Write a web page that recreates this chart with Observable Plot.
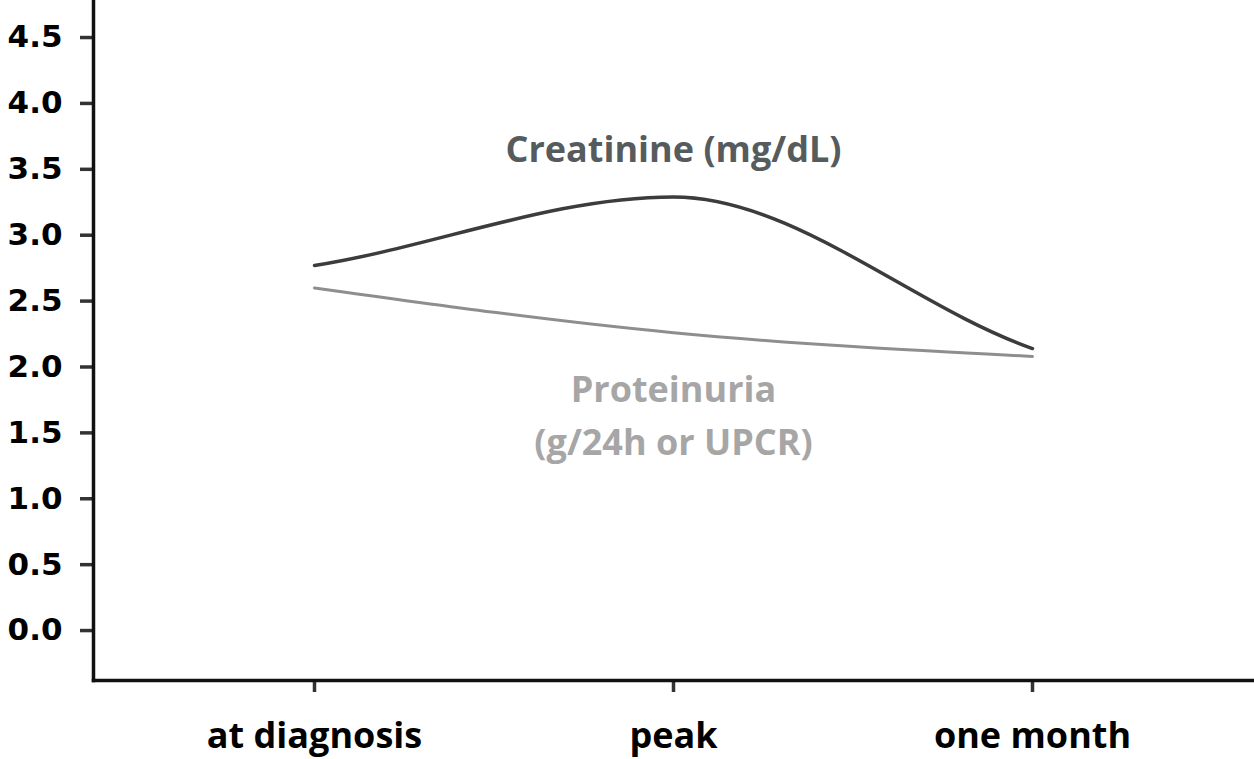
<!DOCTYPE html>
<html><head><meta charset="utf-8">
<script src="https://cdn.jsdelivr.net/npm/d3@7"></script>
<script src="https://cdn.jsdelivr.net/npm/@observablehq/plot@0.6"></script>
<style>body{margin:0;background:#fff;overflow:hidden}</style>
</head><body><div id="chart"></div>
<script>
const categories = ["at diagnosis", "peak", "one month"];
const creatinine = [2.77, 3.29, 2.14];
const proteinuria = [2.60, 2.26, 2.08];
const yTicks = [0, 0.5, 1.0, 1.5, 2.0, 2.5, 3.0, 3.5, 4.0, 4.5];
const creatLabel = "Creatinine (mg/dL)";
const protLabel = "Proteinuria\n(g/24h or UPCR)";

const creatData = categories.map((c, i) => ({cat: c, value: creatinine[i]}));
const protData = categories.map((c, i) => ({cat: c, value: proteinuria[i]}));

// smooth Hermite curve: monotone interior tangents, softened end tangents
function softMonotone(context) {
  let xs = [], ys = [];
  return {
    areaStart() {}, areaEnd() {},
    lineStart() { xs = []; ys = []; },
    point(x, y) { xs.push(+x); ys.push(+y); },
    lineEnd() {
      const n = xs.length;
      if (!n) return;
      context.moveTo(xs[0], ys[0]);
      if (n === 1) return;
      const s = [];
      for (let i = 0; i < n - 1; i++) s.push((ys[i + 1] - ys[i]) / (xs[i + 1] - xs[i]));
      const m = new Array(n);
      m[0] = s[0] * 0.83;
      m[n - 1] = s[n - 2] * 0.83;
      for (let i = 1; i < n - 1; i++) m[i] = s[i - 1] * s[i] <= 0 ? 0 : (s[i - 1] + s[i]) / 2;
      for (let i = 0; i < n - 1; i++) {
        const dx = xs[i + 1] - xs[i];
        context.bezierCurveTo(xs[i] + dx / 3, ys[i] + m[i] * dx / 3,
          xs[i + 1] - dx / 3, ys[i + 1] - m[i + 1] * dx / 3, xs[i + 1], ys[i + 1]);
      }
    }
  };
}

const chart = Plot.plot({
  width: 1254,
  height: 759,
  marginLeft: 93,
  marginRight: 2,
  marginTop: 0,
  marginBottom: 79,
  style: {fontFamily: "'Open Sans', sans-serif", background: "#fff"},
  x: {type: "point", domain: categories, padding: 0.61},
  y: {domain: [-0.379, 4.781]},
  marks: [
    Plot.axisY({ticks: yTicks, tickFormat: d3.format(".1f"), tickSize: 13, tickPadding: 18, label: null,
      fontSize: 31, fontWeight: "bold", fontFamily: "'DejaVu Sans', sans-serif",
      fill: "#000", stroke: "#333", strokeWidth: 3.5}),
    Plot.axisX({tickSize: 12, tickPadding: 30, label: null, fontSize: 36, fontWeight: "bold", fill: "#000",
      stroke: "#333", strokeWidth: 3.5}),
    Plot.frame({anchor: "left", stroke: "#111", strokeWidth: 3.5}),
    Plot.frame({anchor: "bottom", stroke: "#111", strokeWidth: 3.5}),
    Plot.line(protData, {x: "cat", y: "value", curve: "monotone-x", stroke: "#8e8e8e", strokeWidth: 3}),
    Plot.line(creatData, {x: "cat", y: "value", curve: softMonotone, stroke: "#3c3c3c", strokeWidth: 3.5}),
    Plot.text([creatLabel], {x: () => "peak", y: () => 3.64, text: d => d,
      fontSize: 36, fontWeight: "bold", fill: "#565b5e"}),
    Plot.text([protLabel], {x: () => "peak", y: () => 1.66, text: d => d,
      fontSize: 36, fontWeight: "bold", fill: "#a6a6a6", lineHeight: 1.47})
  ]
});
document.getElementById("chart").appendChild(chart);
</script>
</body></html>
